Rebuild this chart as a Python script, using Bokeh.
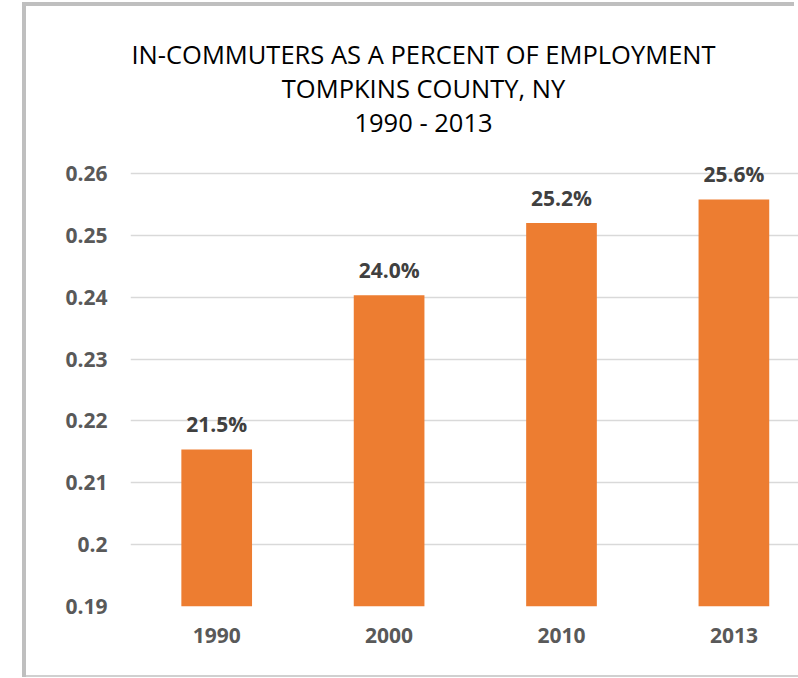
from bokeh.plotting import figure
from bokeh.models import Range1d, FixedTicker
from bokeh.core.properties import value
from bokeh.embed import file_html
from bokeh.resources import INLINE

# ---- data ----
years = ["1990", "2000", "2010", "2013"]
share = [0.2154, 0.2403, 0.2520, 0.2558]
y_ticks = [0.19, 0.20, 0.21, 0.22, 0.23, 0.24, 0.25, 0.26]
y_tick_labels = ["0.19", "0.2", "0.21", "0.22", "0.23", "0.24", "0.25", "0.26"]
title_lines = ["IN-COMMUTERS AS A PERCENT OF EMPLOYMENT", "TOMPKINS COUNTY, NY", "1990 - 2013"]

x_pos = [i + 0.5 for i in range(len(years))]
bar_labels = [f"{v*100:.1f}%" for v in share]

BAR = "#ED7D31"
FONT = "Open Sans"

# ---- layout constants (pixels) ----
W, H = 772, 669
BORDER_L, BORDER_B = 104, 69
PX_PER_CAT = 172.4
PX_PER_UNIT = 6185.7
Y0 = 0.19
frame_w = W - BORDER_L
frame_h = H - BORDER_B
x_end = frame_w / PX_PER_CAT
y_end = Y0 + frame_h / PX_PER_UNIT

p = figure(width=W, height=H, output_backend="svg", toolbar_location=None,
           x_range=Range1d(0, x_end), y_range=Range1d(Y0, y_end),
           min_border_left=BORDER_L, min_border_right=0, min_border_top=0,
           min_border_bottom=BORDER_B, title=None)
# outer chart border drawn as shadows so that it does not change the layout
p.styles = {"margin-left": "26px", "margin-top": "6px",
            "box-shadow": "-4px -4px 0 0 #BFBFBF, 0 2px 0 0 #D0D0D0, -4px 2px 0 0 #BFBFBF"}
p.outline_line_color = None
p.background_fill_color = "white"
p.border_fill_color = "white"

p.vbar(x=x_pos, top=share, bottom=Y0, width=0.41, fill_color=BAR, line_color=None)

p.text(x=x_pos, y=share, text=bar_labels, text_align="center", text_baseline="alphabetic",
       y_offset=-25, text_font=value(FONT), text_font_style="bold", text_font_size="21px",
       text_color="#404040")

# title: centred 293px right of frame left
title_x = [293 / PX_PER_CAT] * len(title_lines)
title_y = [Y0 + (553 - 34 * i) / PX_PER_UNIT for i in range(len(title_lines))]
p.text(x=title_x, y=title_y, text=title_lines, text_align="center", text_baseline="alphabetic",
       text_font=value(FONT), text_font_size="25.5px", text_color="#000000")

# axes
p.xgrid.grid_line_color = None
p.ygrid.ticker = FixedTicker(ticks=y_ticks)
p.ygrid.grid_line_color = "#D9D9D9"
p.ygrid.grid_line_width = 1.3

p.yaxis.ticker = FixedTicker(ticks=y_ticks)
p.yaxis.major_label_overrides = dict(zip(y_ticks, y_tick_labels))
p.xaxis.ticker = FixedTicker(ticks=x_pos)
p.xaxis.major_label_overrides = dict(zip(x_pos, years))
for ax in (p.xaxis[0], p.yaxis[0]):
    ax.axis_line_color = None
    ax.major_tick_line_color = None
    ax.minor_tick_line_color = None
    ax.major_tick_out = 0
    ax.major_tick_in = 0
    ax.minor_tick_out = 0
    ax.major_label_text_font = FONT
    ax.major_label_text_font_style = "bold"
    ax.major_label_text_font_size = "21px"
    ax.major_label_text_color = "#595959"
p.yaxis.major_label_standoff = 23
p.xaxis.major_label_standoff = 21

open("out.html", "w").write(file_html(p, INLINE))
